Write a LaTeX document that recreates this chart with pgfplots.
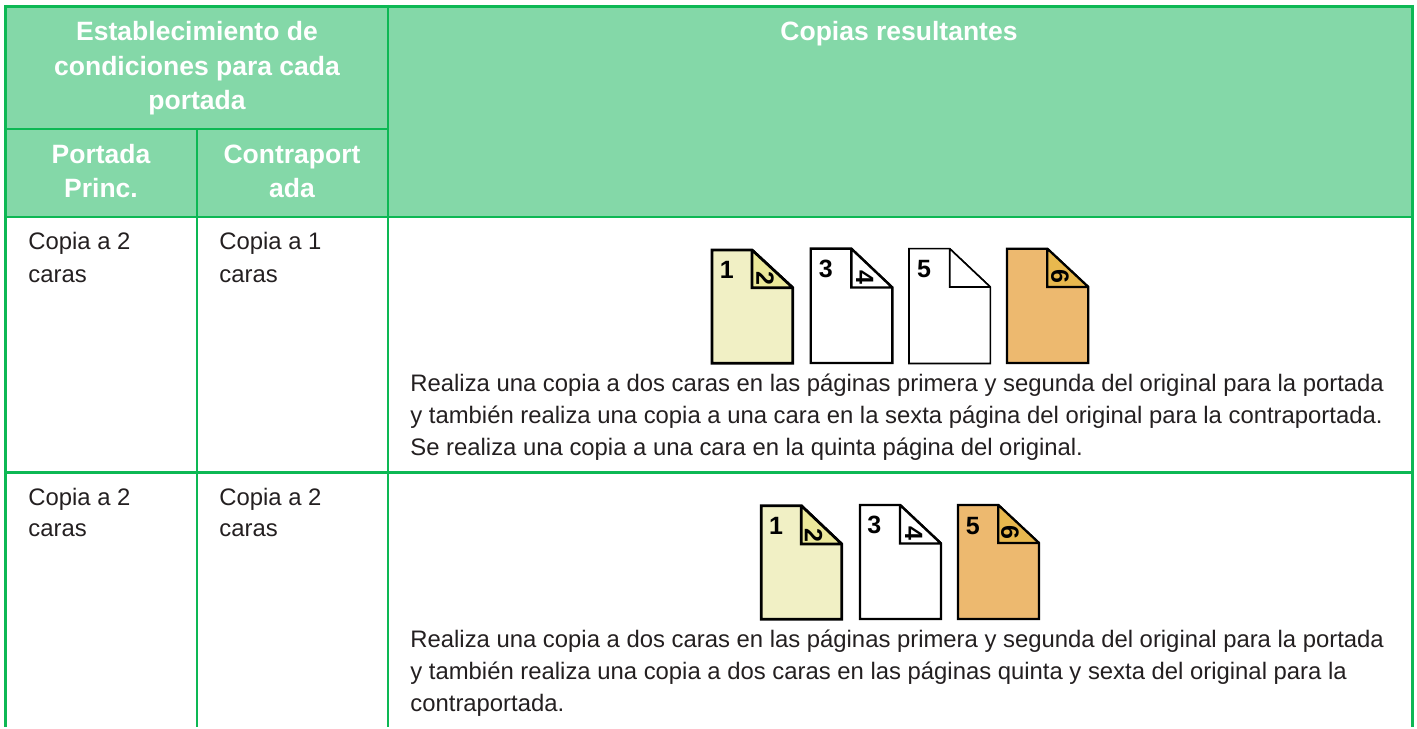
\documentclass[border=0pt]{standalone}
\usepackage{pgfplots}
\pgfplotsset{compat=1.18}
\usepackage{fontspec}
\setmainfont{Liberation Sans}
\definecolor{hdr}{HTML}{84D8A8}
\definecolor{lin}{HTML}{0DB854}
\definecolor{cream}{HTML}{F1F0C5}
\definecolor{creamf}{HTML}{EBE89A}
\definecolor{orng}{HTML}{EDB96F}
\definecolor{orngf}{HTML}{E8B84E}
\definecolor{ink}{HTML}{231F20}
% left, top, fold x, right, fold y, bottom, fill, fold fill, line width
\newcommand{\sheet}[9]{%
  \addplot[draw=black,fill=#7,line width=#9,line join=miter,miter limit=1.5] coordinates {(#1,#2)(#3,#2)(#4,#5)(#4,#6)(#1,#6)} --cycle;
  \addplot[draw=black,fill=#8,line width=#9,line join=miter,miter limit=1.5] coordinates {(#3,#2)(#3,#5)(#4,#5)} --cycle;
}
\newcommand{\body}[3]{\node[anchor=base west,inner sep=0pt,text=ink,font=\fontsize{11.93}{14}\selectfont] at (axis cs:#1,#2) {#3};}
\newcommand{\head}[3]{\node[anchor=base,inner sep=0pt,text=white,font=\fontsize{13.25}{15}\selectfont\bfseries] at (axis cs:#1,#2) {#3};}
\newcommand{\digit}[3]{\node[inner sep=0pt,text=black,font=\fontsize{12.5}{14}\selectfont\bfseries] at (axis cs:#1,#2) {#3};}
\newcommand{\rdigit}[3]{\node[inner sep=0pt,rotate=-90,text=black,font=\fontsize{12.5}{15}\selectfont\bfseries] at (axis cs:#1,#2) {#3};}
\begin{document}
\begin{tikzpicture}
\begin{axis}[scale only axis,width=708.5pt,height=363.5pt,xmin=0,xmax=1417,ymin=0,ymax=727,y dir=reverse,hide axis,clip=false]
\path (axis cs:0,0) rectangle (axis cs:1417,727);
% header fill
\addplot[draw=none,fill=hdr] coordinates {(6,7)(1412,7)(1412,217)(6,217)} --cycle;
% grid lines
\addplot[lin,line width=1.25pt] coordinates {(5.7,6.3)(1412.3,6.3)};
\addplot[lin,line width=1.25pt] coordinates {(5.7,129)(388,129)};
\addplot[lin,line width=1.25pt] coordinates {(5.7,217)(1412.3,217)};
\addplot[lin,line width=1.25pt] coordinates {(5.7,472.7)(1412.3,472.7)};
\addplot[lin,line width=1.25pt] coordinates {(5.7,5)(5.7,727)};
\addplot[lin,line width=1.25pt] coordinates {(197,129)(197,727)};
\addplot[lin,line width=1.25pt] coordinates {(388,5)(388,727)};
\addplot[lin,line width=1.25pt] coordinates {(1412.3,5)(1412.3,727)};
% header text
\head{197}{41}{Establecimiento de}
\head{197}{76}{condiciones para cada}
\head{197}{110}{portada}
\head{101}{164}{Portada}
\head{101}{198}{Princ.}
\head{292}{164}{Contraport}
\head{292}{198}{ada}
\head{899}{41}{Copias resultantes}
% first columns
\body{28}{250}{Copia a 2}
\body{28}{283}{caras}
\body{219}{250}{Copia a 1}
\body{219}{283}{caras}
\body{28}{506}{Copia a 2}
\body{28}{537}{caras}
\body{219}{506}{Copia a 2}
\body{219}{537}{caras}
% descriptions
\body{410}{391.5}{Realiza una copia a dos caras en las páginas primera y segunda del original para la portada}
\body{410}{424}{y también realiza una copia a una cara en la sexta página del original para la contraportada.}
\body{410}{456}{Se realiza una copia a una cara en la quinta página del original.}
\body{410}{647}{Realiza una copia a dos caras en las páginas primera y segunda del original para la portada}
\body{410}{679}{y también realiza una copia a dos caras en las páginas quinta y sexta del original para la}
\body{410}{711}{contraportada.}
% row 1 sheets
\sheet{712}{250}{752}{792.7}{287.7}{363.3}{cream}{creamf}{1.35pt}
\sheet{810.7}{248.7}{851.3}{892.3}{287.5}{363}{white}{white}{1.2pt}
\sheet{909}{248.7}{949.7}{990.3}{287}{363.5}{white}{white}{0.8pt}
\sheet{1007}{248.7}{1047.3}{1088.3}{287}{363}{orng}{orngf}{1.1pt}
\digit{726.7}{269.7}{1}
\digit{825.7}{269}{3}
\digit{924}{269.5}{5}
\rdigit{765}{278}{2}
\rdigit{864.7}{277.5}{4}
\rdigit{1060}{276.5}{6}
% row 2 sheets
\sheet{761.3}{505.7}{801.3}{841.7}{544}{619.3}{cream}{creamf}{1.35pt}
\sheet{860}{505}{900}{941}{543.5}{619}{white}{white}{1.2pt}
\sheet{958}{505}{998.3}{1039}{543}{619}{orng}{orngf}{1.1pt}
\digit{776}{526}{1}
\digit{874.3}{525}{3}
\digit{972.7}{525.6}{5}
\rdigit{813.7}{535}{2}
\rdigit{913.7}{533.5}{4}
\rdigit{1010}{532.5}{6}
\end{axis}
\end{tikzpicture}
\end{document}
